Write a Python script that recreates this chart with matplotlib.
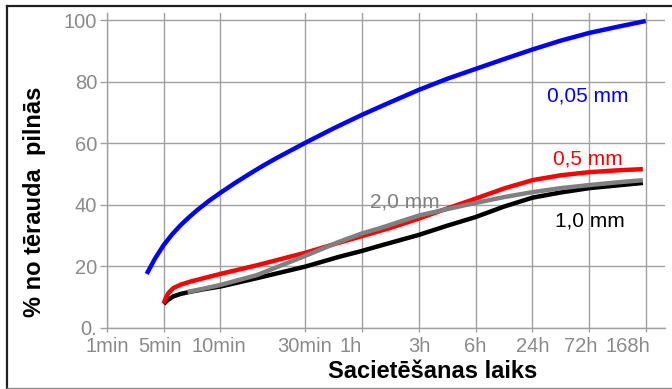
import matplotlib
matplotlib.use("Agg")
import matplotlib.pyplot as plt
from matplotlib.lines import Line2D
from matplotlib.transforms import ScaledTranslation

plt.rcParams['font.family'] = ['Liberation Sans', 'DejaVu Sans']

# Curing time categories and their places on the (uneven) category axis
time_labels = ["1min", "5min", "10min", "30min", "1h", "3h", "6h", "24h", "72h", "168h"]
time_pos = [0, 1, 2, 3.5, 4.5, 5.5, 6.5, 7.5, 8.5, 9.5]
# horizontal nudge (pixels) of each time label so crowded labels don't collide
label_shift_px = [0, -4, -2, -1, -12, 1, 0, 0, -8, -18]

y_ticks = [0, 20, 40, 60, 80, 100]
y_tick_labels = ["0.", "20", "40", "60", "80", "100"]

# % of full steel strength for each section thickness
x_005 = [0.7, 0.85, 1.0, 1.15, 1.3, 1.45, 1.6, 1.8, 2.0, 2.25, 2.5, 2.75, 3.0, 3.5, 4.0, 4.5, 5.0, 5.5, 6.0, 6.5, 7.0, 7.5, 8.0, 8.5, 9.0, 9.5]
y_005 = [17.5, 22.6, 26.9, 30.4, 33.4, 36.0, 38.4, 41.3, 43.9, 47.0, 49.9, 52.7, 55.3, 60.2, 64.9, 69.3, 73.4, 77.4, 81.0, 84.2, 87.4, 90.5, 93.4, 95.9, 97.9, 99.8]

x_05 = [1.0, 1.04, 1.08, 1.17, 1.3, 1.47, 1.7, 2.0, 2.64, 3.5, 4.1, 4.5, 5.0, 5.5, 6.0, 6.5, 7.0, 7.5, 8.0, 8.5, 9.0, 9.45]
y_05 = [7.9, 9.8, 11.2, 12.9, 14.0, 15.0, 16.1, 17.5, 20.3, 24.4, 27.7, 29.8, 32.5, 35.5, 38.8, 42.0, 45.3, 48.0, 49.6, 50.6, 51.2, 51.6]

x_10 = [1.0, 1.04, 1.08, 1.17, 1.3, 1.47, 1.7, 2.0, 2.64, 3.5, 4.1, 4.5, 4.8, 5.5, 6.0, 6.5, 7.0, 7.5, 8.0, 8.5, 9.0, 9.45]
y_10 = [7.7, 8.5, 9.1, 10.2, 11.0, 11.7, 12.5, 13.4, 16.1, 19.9, 23.1, 25.0, 26.6, 30.2, 33.2, 36.0, 39.4, 42.3, 44.0, 45.4, 46.3, 47.1]

x_20 = [1.42, 1.7, 2.0, 2.64, 3.5, 4.1, 4.5, 4.8, 5.5, 6.0, 6.5, 7.0, 7.5, 8.0, 8.5, 9.0, 9.45]
y_20 = [11.6, 12.7, 13.9, 17.1, 23.4, 28.0, 30.7, 32.3, 36.5, 38.6, 40.6, 42.5, 44.1, 45.4, 46.4, 47.3, 48.0]

grid_col = "#a0a0a0"
tick_col = "#8a8a8a"

fig = plt.figure(figsize=(6.72, 3.89), dpi=100)
ax = fig.add_axes([107 / 672, 1 - 327.7 / 389, 558 / 672, 314.7 / 389])

lw = 3.2
ax.plot(x_005, y_005, color="#0000ff", lw=lw, solid_capstyle="butt", solid_joinstyle="round", zorder=5)
ax.plot(x_10, y_10, color="#000000", lw=lw, solid_capstyle="butt", solid_joinstyle="round", zorder=4)
ax.plot(x_05, y_05, color="#ff0000", lw=lw, solid_capstyle="butt", solid_joinstyle="round", zorder=5)
ax.plot(x_20, y_20, color="#808080", lw=lw, solid_capstyle="butt", solid_joinstyle="round", zorder=6)

ax.text(8.48, 75.4, "0,05 mm", color="#0000ff", fontsize=15, ha="center", va="center", zorder=7)
ax.text(8.48, 55.0, "0,5 mm", color="#ff0000", fontsize=15, ha="center", va="center", zorder=7)
ax.text(5.26, 40.8, "2,0 mm", color="#808080", fontsize=15, ha="center", va="center", zorder=3)
ax.text(8.52, 34.7, "1,0 mm", color="#000000", fontsize=15, ha="center", va="center", zorder=7)

ax.set_xlim(0, 9.84)
ax.set_ylim(0, 102.4)
ax.set_xticks(time_pos, time_labels)
ax.set_yticks(y_ticks, y_tick_labels)
ax.grid(True, color=grid_col, lw=1.0, zorder=0)
ax.set_axisbelow(True)

for side in ("top", "right"):
    ax.spines[side].set_visible(False)
for side in ("left", "bottom"):
    ax.spines[side].set_color(grid_col)
    ax.spines[side].set_linewidth(1.0)

ax.tick_params(axis="y", length=5, width=1, color=grid_col, labelcolor=tick_col, labelsize=14.5, pad=2)
ax.tick_params(axis="x", length=3, width=1, color=grid_col, labelcolor=tick_col, labelsize=14.5, pad=4)

for lbl, dx in zip(ax.get_xticklabels(), label_shift_px):
    lbl.set_transform(lbl.get_transform() + ScaledTranslation(dx / 100, 0, fig.dpi_scale_trans))

fig.text(35 / 672, 1 - 202 / 389, "% no tērauda  pilnās", rotation=90, fontsize=17,
         fontweight="bold", ha="center", va="center")
fig.text(433 / 672, 1 - 371 / 389, "Sacietēšanas laiks", fontsize=17,
         fontweight="bold", ha="center", va="center")

# outer frame
fig.add_artist(Line2D([6.5 / 672, 1.0], [1 - 5.5 / 389, 1 - 5.5 / 389], transform=fig.transFigure,
                      color="#202020", lw=1.6))
fig.add_artist(Line2D([6.5 / 672, 6.5 / 672], [1 - 5.5 / 389, 0.5 / 389], transform=fig.transFigure,
                      color="#202020", lw=1.6))
fig.add_artist(Line2D([6.5 / 672, 1.0], [0.8 / 389, 0.8 / 389], transform=fig.transFigure,
                      color="#909090", lw=1.0))

fig.savefig("out.png", dpi=100)
